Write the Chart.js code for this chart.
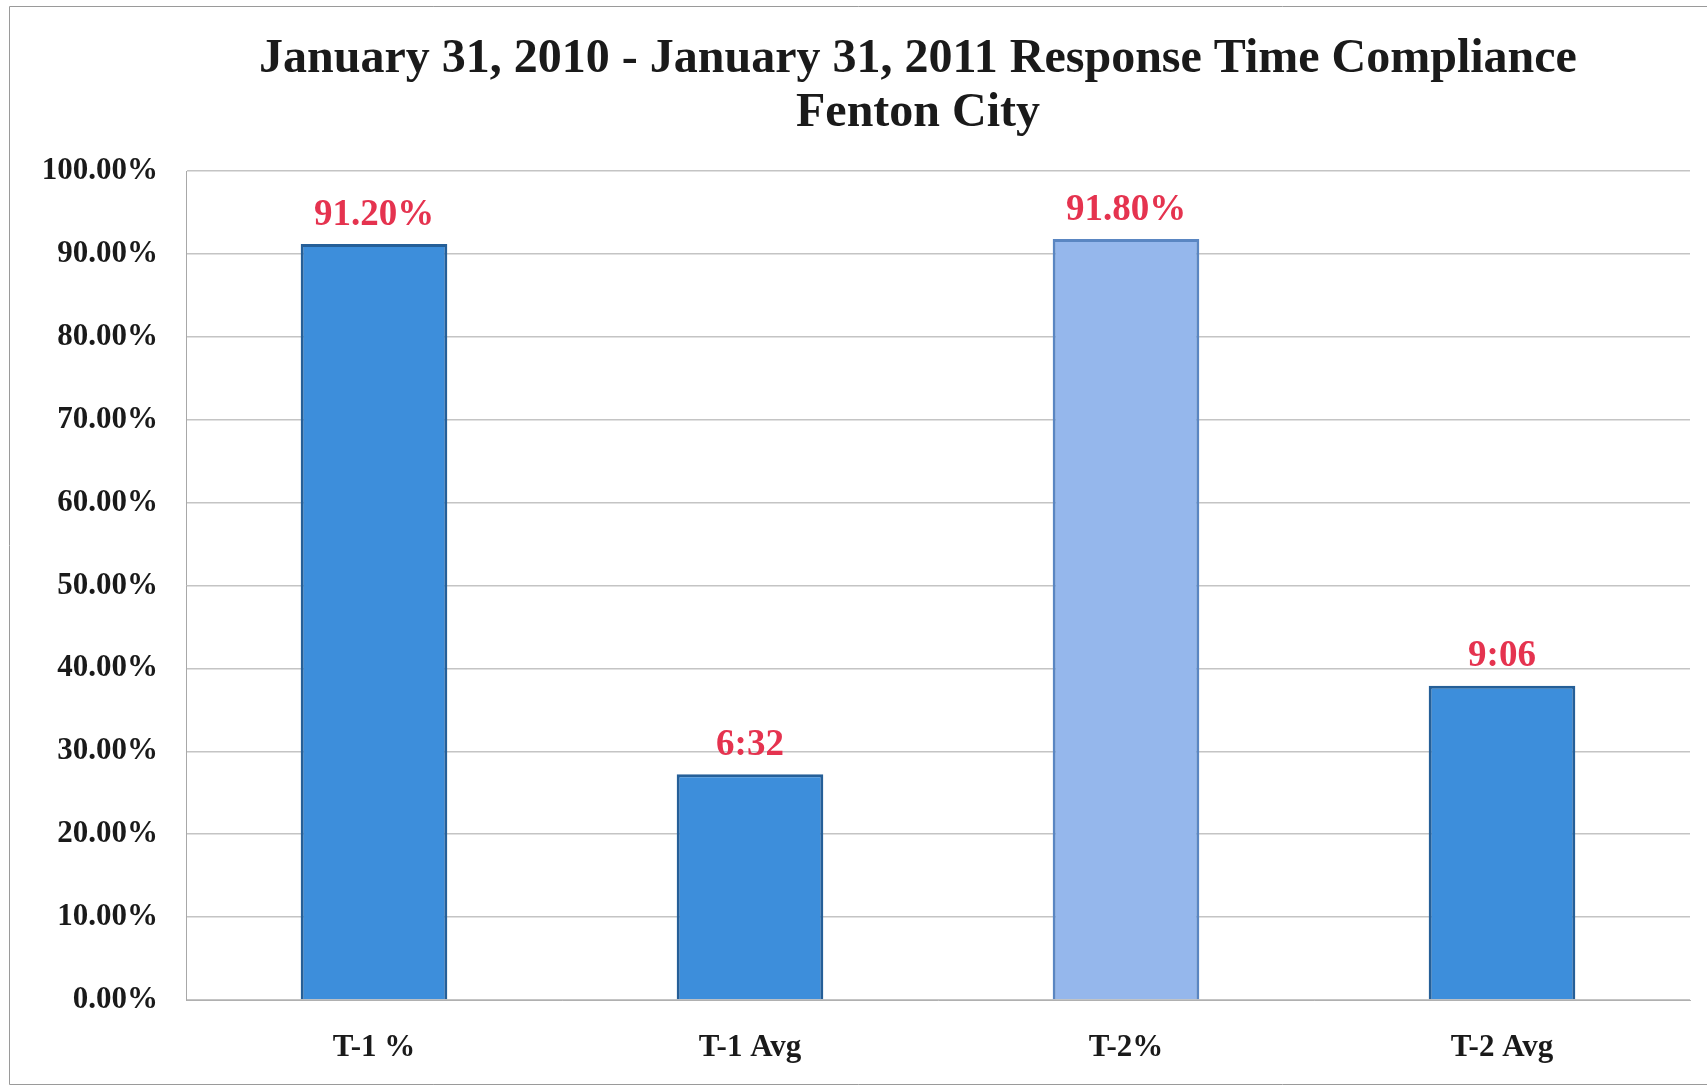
<!DOCTYPE html>
<html lang="en">
<head>
    <meta charset="UTF-8">
    <title>Response Time Compliance</title>
    <script src="https://cdn.jsdelivr.net/npm/chart.js"></script>
    <style>
        html, body { margin: 0; padding: 0; background: #fff; }
        #wrap { position: relative; width: 1708px; height: 1089px; }
    </style>
</head>
<body>
    <div id="wrap"><canvas id="complianceChart"></canvas></div>

    <script>
        const categories = ['T-1 %', 'T-1 Avg', 'T-2%', 'T-2 Avg'];
        // avg times are plotted as fraction of a day (6:32 -> 27.2%), like the Excel sheet did
        const values = [91.2, 27.22, 91.8, 37.92];
        const valueLabels = ['91.20%', '6:32', '91.80%', '9:06'];
        const titleLines = ['January 31, 2010 - January 31, 2011 Response Time Compliance', 'Fenton City'];
        const barColors = ['#3d8edb', '#3d8edb', '#95b7ec', '#3d8edb'];
        const edgeColors = ['#255f98', '#255f98', '#5a86c2', '#255f98'];

        const serif = '"Liberation Serif", "Times New Roman", serif';

        // title + frame + value labels
        const decorations = {
            id: 'decorations',
            beforeDraw(chart) {
                const ctx = chart.ctx;
                ctx.save();
                ctx.strokeStyle = '#9a9a9a';
                ctx.lineWidth = 1;
                ctx.beginPath();
                ctx.moveTo(1707, 6.5);
                ctx.lineTo(9.5, 6.5);
                ctx.lineTo(9.5, 1084.5);
                ctx.lineTo(1707, 1084.5);
                ctx.stroke();

                ctx.fillStyle = '#1a1a1a';
                ctx.font = 'bold 48px ' + serif;
                ctx.textAlign = 'center';
                ctx.textBaseline = 'middle';
                ctx.fillText(titleLines[0], 918, 60);
                ctx.fillText(titleLines[1], 918, 114);
                ctx.restore();
            },
            afterDatasetsDraw(chart) {
                const ctx = chart.ctx;
                const meta = chart.getDatasetMeta(0);
                ctx.save();
                ctx.fillStyle = '#e5334f';
                ctx.font = 'bold 37px ' + serif;
                ctx.textAlign = 'center';
                ctx.textBaseline = 'middle';
                meta.data.forEach((bar, i) => {
                    ctx.fillText(valueLabels[i], bar.x, bar.y - 29);
                });
                ctx.restore();
            }
        };

        const ctx = document.getElementById('complianceChart').getContext('2d');
        const chart = new Chart(ctx, {
            type: 'bar',
            data: {
                labels: categories,
                datasets: [{
                    data: values,
                    backgroundColor: barColors,
                    borderColor: edgeColors,
                    borderWidth: 3,
                    categoryPercentage: 1,
                    barPercentage: 0.39
                }]
            },
            options: {
                responsive: true,
                maintainAspectRatio: false,
                animation: false,
                layout: {
                    padding: { top: 171, right: 18, bottom: 0, left: 0 }
                },
                plugins: {
                    legend: { display: false },
                    tooltip: { enabled: false }
                },
                scales: {
                    x: {
                        grid: { display: false, drawTicks: false },
                        border: { display: true, color: '#b0b0b0', width: 1 },
                        ticks: {
                            color: '#1a1a1a',
                            padding: 29,
                            font: { family: serif, size: 31, weight: 'bold' }
                        },
                        afterFit: scale => { scale.height = 89; }
                    },
                    y: {
                        min: 0,
                        max: 100,
                        ticks: {
                            stepSize: 10,
                            color: '#1a1a1a',
                            padding: 28,
                            font: { family: serif, size: 31, weight: 'bold' },
                            callback: v => v.toFixed(2) + '%'
                        },
                        grid: { color: '#c4c4c4', lineWidth: 1.5, drawTicks: false },
                        border: { display: true, color: '#a8a8a8', width: 1 },
                        afterFit: scale => { scale.width = 186; }
                    }
                }
            },
            plugins: [decorations]
        });
    </script>
</body>
</html>
